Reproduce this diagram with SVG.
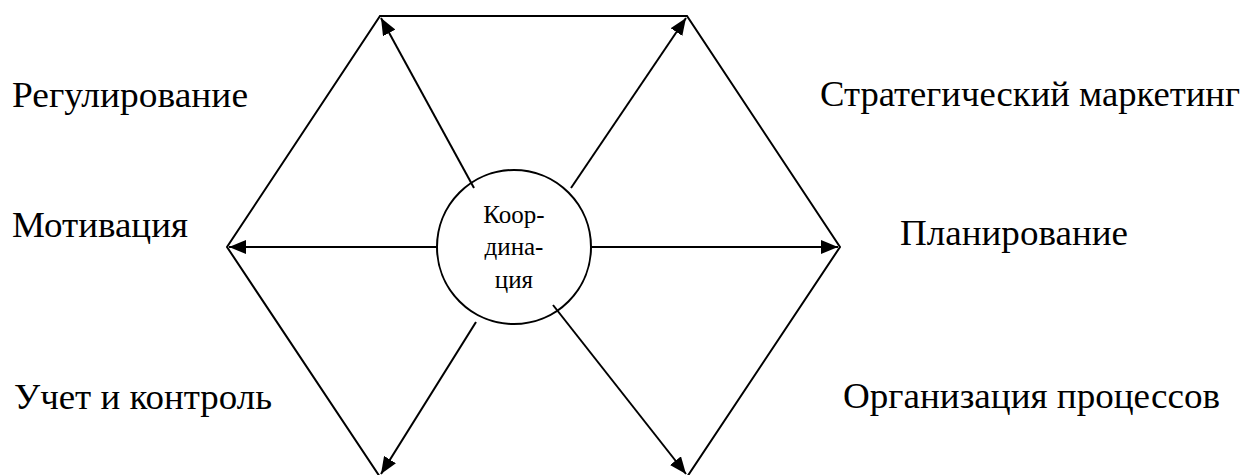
<svg xmlns="http://www.w3.org/2000/svg" width="1248" height="475" viewBox="0 0 1248 475">
<style>
.ln{stroke:#000;stroke-width:2;fill:none}
.lbl{font-family:"Liberation Serif",serif;font-size:36px;fill:#000}
.ct{font-family:"Liberation Serif",serif;font-size:25px;fill:#000;text-anchor:middle}
</style>
<defs>
<marker id="ah" markerWidth="17" markerHeight="14" refX="17" refY="7" orient="auto" markerUnits="userSpaceOnUse">
<path d="M0,0 L17,7 L0,14 Z" fill="#000"/>
</marker>
</defs>
<rect width="1248" height="475" fill="#fff"/>
<g id="connectors">
<polygon class="ln" points="380,16 687,16 840,247 687,477 380,477 227,247"/>
<line class="ln" x1="474" y1="188" x2="381" y2="18" marker-end="url(#ah)"/>
<line class="ln" x1="571" y1="188" x2="686" y2="18" marker-end="url(#ah)"/>
<line class="ln" x1="437" y1="247" x2="229" y2="247" marker-end="url(#ah)"/>
<line class="ln" x1="591" y1="247" x2="838" y2="247" marker-end="url(#ah)"/>
<line class="ln" x1="476" y1="322" x2="381" y2="474" marker-end="url(#ah)"/>
<line class="ln" x1="553" y1="305" x2="686" y2="474" marker-end="url(#ah)"/>
</g>
<g id="center">
<circle class="ln" cx="514" cy="247" r="77" fill="#fff"/>
<text class="ct" x="514" y="223">Коор-</text>
<text class="ct" x="514" y="255">дина-</text>
<text class="ct" x="514" y="288">ция</text>
</g>
<g id="n1"><text class="lbl" x="12" y="107" textLength="236" lengthAdjust="spacingAndGlyphs">Регулирование</text></g>
<g id="n2"><text class="lbl" x="12" y="237" textLength="176" lengthAdjust="spacingAndGlyphs">Мотивация</text></g>
<g id="n3"><text class="lbl" x="14" y="409" textLength="258" lengthAdjust="spacingAndGlyphs">Учет и контроль</text></g>
<g id="n4"><text class="lbl" x="820" y="106" textLength="420" lengthAdjust="spacingAndGlyphs">Стратегический маркетинг</text></g>
<g id="n5"><text class="lbl" x="900" y="245" textLength="228" lengthAdjust="spacingAndGlyphs">Планирование</text></g>
<g id="n6"><text class="lbl" x="843" y="408" textLength="377" lengthAdjust="spacingAndGlyphs">Организация процессов</text></g>
</svg>
